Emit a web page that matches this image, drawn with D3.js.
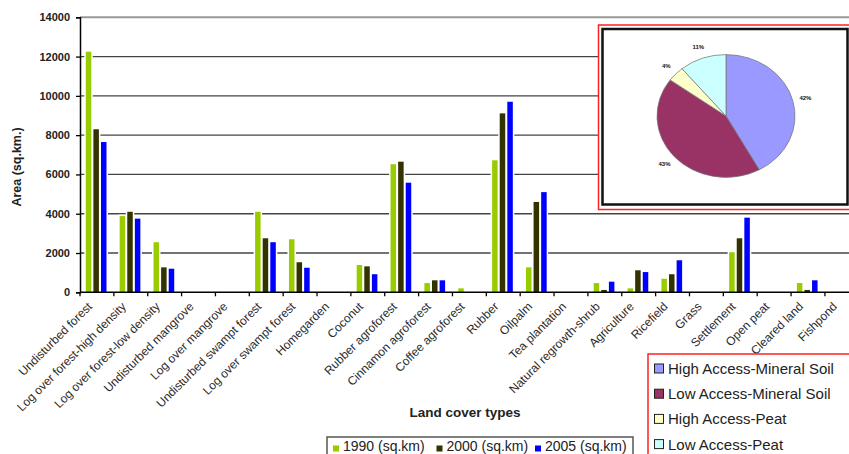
<!DOCTYPE html>
<html><head><meta charset="utf-8">
<script src="https://cdn.jsdelivr.net/npm/d3@7"></script>
<style>body{margin:0;background:#fff}svg{display:block;font-family:Arial,"Liberation Sans",sans-serif}</style>
</head><body><svg id="c" width="849" height="454"></svg>
<script>
const categories = ["Undisturbed forest","Log over forest-high density","Log over forest-low density","Undisturbed mangrove","Log over mangrove","Undisturbed swampt forest","Log over swampt forest","Homegarden","Coconut","Rubber agroforest","Cinnamon agroforest","Coffee agroforest","Rubber","Oilpalm","Tea plantation","Natural regrowth-shrub","Agriculture","Ricefield","Grass","Settlement","Open peat","Cleared land","Fishpond"];
const series = ["1990 (sq.km)","2000 (sq.km)","2005 (sq.km)"];
const v1990 = [12250,3880,2550,0,0,4100,2700,0,1390,6520,470,200,6720,1270,0,470,200,690,0,2040,0,470,0];
const v2000 = [8300,4100,1270,0,0,2750,1530,0,1320,6650,610,0,9110,4600,0,120,1120,920,0,2750,0,120,0];
const v2005 = [7650,3750,1200,0,0,2550,1250,0,920,5580,610,0,9700,5100,0,540,1030,1630,0,3800,0,610,0];
const yTicks = [0,2000,4000,6000,8000,10000,12000,14000];
const barColors = ["#99CC00","#333300","#0000FF"];
const pieLabels = ["High Access-Mineral Soil","Low Access-Mineral Soil","High Access-Peat","Low Access-Peat"];
const pieValues = [42,43,4,11];
const pieColors = ["#9999FF","#993366","#FFFFCC","#CCFFFF"];

const svg = d3.select("#c");
const X0 = 80, STEP = 33.86, Y0 = 292.3, YT = 17.3;
const x = d3.scaleBand().domain(categories).range([X0, X0 + STEP*categories.length]).padding(0);
const x1 = d3.scaleBand().domain(series).range([5.8, 26.5]).paddingInner(0.276);
const y = d3.scaleLinear().domain([0,14000]).range([Y0, YT]);
const values = [v1990, v2000, v2005];

// gridlines
svg.append("g").selectAll("line").data(yTicks.filter(d=>d>0)).join("line")
  .attr("x1", X0).attr("x2", 849).attr("y1", d=>y(d)).attr("y2", d=>y(d))
  .attr("stroke", d=> d===14000 ? "#999" : "#444").attr("stroke-width", d=> d===14000 ? 2 : 1.3);

// bars
const data = [];
categories.forEach((c,i)=>series.forEach((s,j)=>data.push({c, s, j, v: values[j][i]})));
const bars = data.filter(d=>d.v>0);
svg.append("g").selectAll("rect").data(bars).join("rect")
  .attr("x", d=>x(d.c)+x1(d.s)-1.5).attr("width", x1.bandwidth()+3)
  .attr("y", d=>y(d.v)-1.5).attr("height", d=>Y0-y(d.v)+1.5).attr("fill","#fff");
svg.append("g").selectAll("rect").data(bars).join("rect")
  .attr("x", d=>x(d.c)+x1(d.s)).attr("width", x1.bandwidth())
  .attr("y", d=>y(d.v)).attr("height", d=>Y0-y(d.v)).attr("fill", d=>barColors[d.j]);

// y axis
const ya = svg.append("g").attr("transform",`translate(${X0},0)`)
  .call(d3.axisLeft(y).tickValues(yTicks).tickFormat(d3.format("d")).tickSize(4).tickPadding(6));
ya.select(".domain").attr("stroke","#000").attr("stroke-width",1.5);
ya.selectAll(".tick line").attr("stroke","#000").attr("stroke-width",1.3);
ya.selectAll("text").attr("font-size","11px").attr("font-weight","bold").attr("fill","#222").attr("font-family","Arial");

// x axis
const xa = svg.append("g").attr("transform",`translate(0,${Y0})`);
xa.append("line").attr("x1",X0).attr("x2",849).attr("stroke","#000").attr("stroke-width",1.5);
xa.selectAll(".tk").data(categories).join("line").attr("class","tk")
  .attr("x1", d=>x(d)).attr("x2", d=>x(d)).attr("y1",0).attr("y2",4).attr("stroke","#000").attr("stroke-width",1.3);
xa.selectAll(".lb").data(categories).join("text").attr("class","lb")
  .attr("transform", d=>`translate(${x(d)+STEP/2-7},${12}) rotate(-45)`)
  .attr("text-anchor","end").attr("dy","0.35em")
  .attr("font-size","12px").attr("fill","#2a2a2a").text(d=>d);

// axis titles
svg.append("text").attr("transform","translate(21,167) rotate(-90)").attr("text-anchor","middle")
  .attr("font-size","12.5px").attr("font-weight","bold").attr("fill","#222").text("Area (sq.km.)");
svg.append("text").attr("x",465).attr("y",417).attr("text-anchor","middle")
  .attr("font-size","13.5px").attr("font-weight","bold").attr("fill","#222").text("Land cover types");

// bottom legend
const lg = svg.append("g");
lg.append("rect").attr("x",327).attr("y",437).attr("width",306).attr("height",30).attr("fill","#fff").attr("stroke","#555").attr("stroke-width",1.5);
const lgX = [333, 436.5, 535];
series.forEach((s,j)=>{
  lg.append("rect").attr("x",lgX[j]).attr("y",445.5).attr("width",6).attr("height",6).attr("fill",barColors[j]);
  lg.append("text").attr("x",lgX[j]+10).attr("y",451).attr("font-size","14px").attr("fill","#222").text(s);
});

// pie inset
const ins = svg.append("g");
ins.append("rect").attr("x",598.5).attr("y",25).attr("width",300).attr("height",184.5).attr("fill","#fff").attr("stroke","#ff2020").attr("stroke-width",1.5);
ins.append("rect").attr("x",602.5).attr("y",29).attr("width",245).attr("height",175.5).attr("fill","#fff").attr("stroke","#111").attr("stroke-width",2.5);
const pie = d3.pie().sort(null).value(d=>d)(pieValues);
const R = 69;
const arc = d3.arc().innerRadius(0).outerRadius(R);
const pg = ins.append("g").attr("transform","translate(726,116) scale(1,0.89)");
pg.selectAll("path").data(pie).join("path").attr("d",arc).attr("fill",(d,i)=>pieColors[i])
  .attr("stroke","#777").attr("stroke-width",0.8);
const lArc = d3.arc().innerRadius(R+13).outerRadius(R+13);
ins.selectAll(".pl").data(pie).join("text").attr("class","pl")
  .attr("transform", d=>{const c=lArc.centroid(d); return `translate(${726+c[0]},${116+c[1]*0.89})`;})
  .attr("text-anchor","middle").attr("dy","0.35em").attr("font-size","6px").attr("font-weight","bold").attr("fill","#111")
  .text(d=>d.data+"%");

// pie legend
const pl = svg.append("g");
pl.append("rect").attr("x",648).attr("y",354).attr("width",220).attr("height",120).attr("fill","#fff").attr("stroke","#ff2020").attr("stroke-width",1.5);
pieLabels.forEach((s,i)=>{
  const cy = 368.5 + i*25.2;
  pl.append("rect").attr("x",654.5).attr("y",cy-4.5).attr("width",9).attr("height",9).attr("fill",pieColors[i]).attr("stroke","#222").attr("stroke-width",1);
  pl.append("text").attr("x",668).attr("y",cy+5.5).attr("font-size","15px").attr("fill","#222").text(s);
});
</script></body></html>
